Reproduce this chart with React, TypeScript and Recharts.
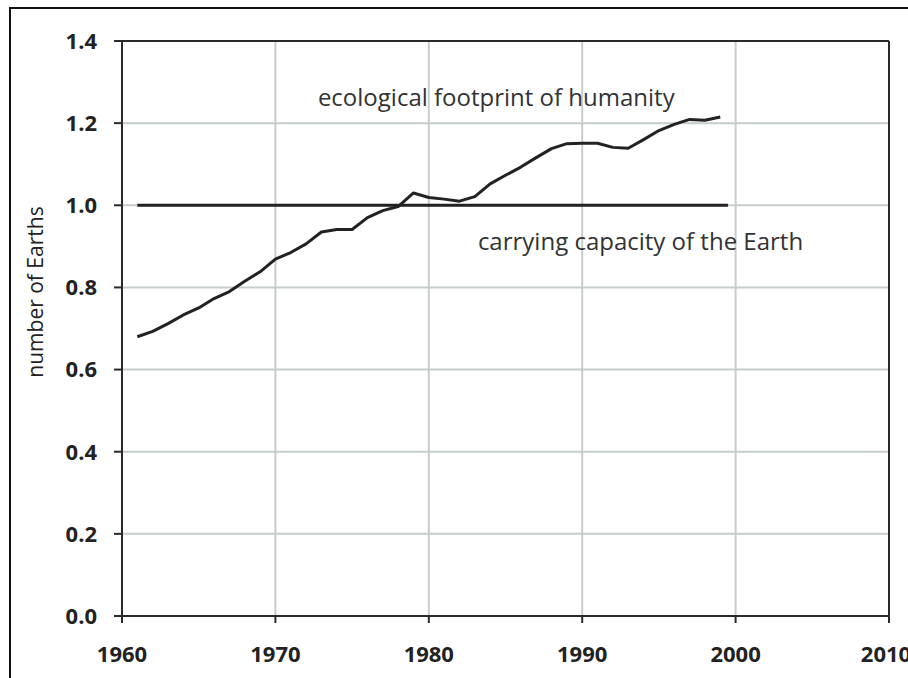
import { LineChart, Line, XAxis, YAxis, CartesianGrid, ReferenceLine, ReferenceDot } from 'recharts';

// ecological footprint of humanity, number of Earths per year
const years = [
  1961, 1962, 1963, 1964, 1965, 1966, 1967, 1968, 1969, 1970,
  1971, 1972, 1973, 1974, 1975, 1976, 1977, 1978, 1979, 1980,
  1981, 1982, 1983, 1984, 1985, 1986, 1987, 1988, 1989, 1990,
  1991, 1992, 1993, 1994, 1995, 1996, 1997, 1998, 1999,
];
const footprint = [
  0.68, 0.693, 0.712, 0.733, 0.75, 0.773, 0.79, 0.815, 0.838, 0.869,
  0.885, 0.906, 0.935, 0.941, 0.941, 0.97, 0.987, 0.997, 1.03, 1.019,
  1.015, 1.01, 1.021, 1.052, 1.073, 1.093, 1.116, 1.138, 1.15, 1.151,
  1.151, 1.141, 1.139, 1.16, 1.182, 1.197, 1.209, 1.207, 1.215,
];

// carrying capacity of the Earth
const capacityYears = [1961, 1999.5];
const capacity = [1, 1];

const xTicks = [1960, 1970, 1980, 1990, 2000, 2010];
const yTicks = [0, 0.2, 0.4, 0.6, 0.8, 1.0, 1.2, 1.4];

const footprintData = years.map((year, i) => ({ year, value: footprint[i] }));
const capacityData = capacityYears.map((year, i) => ({ year, value: capacity[i] }));

const font = '"Open Sans", "Noto Sans", sans-serif';
const axisColor = '#2a2a2a';
const gridColor = '#c5cdcd';

const tickStyle = { fill: '#222', fontSize: 22, fontWeight: 700, fontFamily: font };
const noteStyle = { fill: '#333', fontSize: 24, fontFamily: font };

export default function App() {
  return (
    <div style={{ position: 'absolute', left: 0, top: 0, width: 908, height: 678, background: '#fff', overflow: 'hidden' }}>
      {/* frame of the cropped figure */}
      <div
        style={{
          position: 'absolute',
          left: 9,
          top: 7,
          width: 920,
          height: 700,
          borderLeft: '2px solid #111',
          borderTop: '2px solid #111',
        }}
      />
      <div style={{ position: 'absolute', left: 0, top: 0 }}>
        <LineChart width={908} height={678} margin={{ top: 41, right: 19, bottom: 22, left: 22 }}>
          <CartesianGrid stroke={gridColor} strokeWidth={2} />
          <XAxis
            dataKey="year"
            type="number"
            domain={[1960, 2010]}
            ticks={xTicks}
            height={40}
            tickSize={7}
            tickMargin={23}
            tick={tickStyle}
            axisLine={{ stroke: axisColor, strokeWidth: 2 }}
            tickLine={{ stroke: axisColor, strokeWidth: 2 }}
            allowDataOverflow
          />
          <YAxis
            type="number"
            domain={[0, 1.4]}
            ticks={yTicks}
            width={100}
            tickSize={8}
            tickMargin={17}
            tick={tickStyle}
            tickFormatter={(v: number) => v.toFixed(1)}
            axisLine={{ stroke: axisColor, strokeWidth: 2 }}
            tickLine={{ stroke: axisColor, strokeWidth: 2 }}
            label={{
              content: () => (
                <text
                  x={36}
                  y={292}
                  transform="rotate(-90 36 292)"
                  textAnchor="middle"
                  dy="0.355em"
                  fill="#222"
                  fontSize={21}
                  fontFamily={font}
                >
                  number of Earths
                </text>
              ),
            }}
          />
          <ReferenceLine y={1.4} stroke={axisColor} strokeWidth={2} />
          <ReferenceLine x={2010} stroke={axisColor} strokeWidth={2} />

          <Line
            data={capacityData}
            dataKey="value"
            stroke="#222"
            strokeWidth={3}
            dot={false}
            isAnimationActive={false}
          />
          <Line
            data={footprintData}
            dataKey="value"
            stroke="#222"
            strokeWidth={3}
            strokeLinejoin="round"
            dot={false}
            isAnimationActive={false}
          />

          <ReferenceDot
            x={1984.4}
            y={1.262}
            r={0}
            fill="none"
            stroke="none"
            label={{ value: 'ecological footprint of humanity', position: 'center', ...noteStyle }}
          />
          <ReferenceDot
            x={1993.8}
            y={0.912}
            r={0}
            fill="none"
            stroke="none"
            label={{ value: 'carrying capacity of the Earth', position: 'center', ...noteStyle }}
          />
        </LineChart>
      </div>
    </div>
  );
}
